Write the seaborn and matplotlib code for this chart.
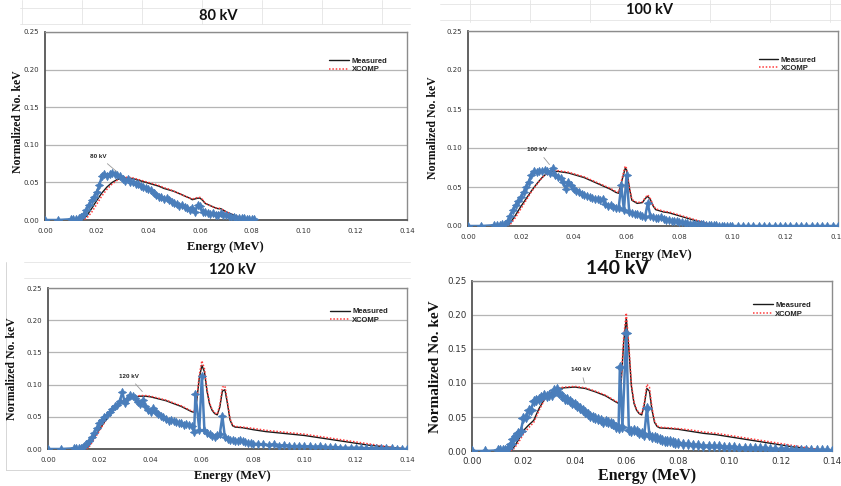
import numpy as np
import pandas as pd
import matplotlib
matplotlib.use("Agg")
import matplotlib.pyplot as plt
import seaborn as sns

# ---------------- data ----------------
x_ticks = [0.00, 0.02, 0.04, 0.06, 0.08, 0.10, 0.12, 0.14]
x_tick_labels = ["0.00", "0.02", "0.04", "0.06", "0.08", "0.10", "0.12", "0.14"]
y_ticks = [0.00, 0.05, 0.10, 0.15, 0.20, 0.25]
y_tick_labels = ["0.00", "0.05", "0.10", "0.15", "0.20", "0.25"]
panel_titles = ["80 kV", "100 kV", "120 kV", "140 kV"]
series_names = ["Measured", "XCOMP"]

# ---- 80 kV ----
sim80_e = [0.000, 0.005, 0.010, 0.011, 0.012, 0.013, 0.014, 0.015, 0.016, 0.017, 0.018, 0.019,
           0.020, 0.021, 0.022, 0.023, 0.024, 0.025, 0.026, 0.027, 0.028, 0.029, 0.030, 0.031,
           0.032, 0.033, 0.034, 0.035, 0.036, 0.037, 0.038, 0.039, 0.040, 0.041, 0.042, 0.043,
           0.044, 0.045, 0.046, 0.047, 0.048, 0.049, 0.050, 0.051, 0.052, 0.053, 0.054, 0.055,
           0.056, 0.057, 0.058, 0.059, 0.060, 0.061, 0.062, 0.063, 0.064, 0.065, 0.066, 0.067,
           0.068, 0.069, 0.070, 0.071, 0.072, 0.073, 0.074, 0.075, 0.076, 0.077, 0.078, 0.079,
           0.080, 0.081]
sim80_y = [0.000, 0.000, 0.001, 0.001, 0.001, 0.002, 0.004, 0.008, 0.013, 0.020, 0.026, 0.030,
           0.037, 0.046, 0.058, 0.061, 0.059, 0.061, 0.063, 0.061, 0.060, 0.058, 0.055, 0.052,
           0.054, 0.051, 0.050, 0.048, 0.048, 0.045, 0.044, 0.043, 0.041, 0.040, 0.036, 0.033,
           0.030, 0.031, 0.028, 0.029, 0.026, 0.024, 0.023, 0.021, 0.019, 0.020, 0.017, 0.016,
           0.013, 0.016, 0.010, 0.020, 0.018, 0.011, 0.011, 0.009, 0.008, 0.009, 0.007, 0.007,
           0.009, 0.007, 0.006, 0.005, 0.004, 0.004, 0.003, 0.002, 0.002, 0.002, 0.001, 0.001,
           0.001, 0.001]
meas80_e = [0.014, 0.016, 0.018, 0.020, 0.022, 0.024, 0.026, 0.028, 0.030, 0.032, 0.034, 0.036,
            0.038, 0.040, 0.042, 0.044, 0.046, 0.048, 0.050, 0.052, 0.054, 0.056, 0.057, 0.058,
            0.059, 0.060, 0.061, 0.062, 0.064, 0.066, 0.067, 0.068, 0.069, 0.070, 0.072, 0.074,
            0.076, 0.078, 0.080]
meas80_y = [0.000, 0.005, 0.015, 0.026, 0.036, 0.044, 0.050, 0.054, 0.056, 0.056, 0.055, 0.053,
            0.051, 0.049, 0.047, 0.045, 0.042, 0.040, 0.038, 0.035, 0.032, 0.029, 0.027, 0.028,
            0.029, 0.029, 0.026, 0.022, 0.019, 0.016, 0.015, 0.015, 0.013, 0.011, 0.008, 0.005,
            0.003, 0.001, 0.000]
xcomp80_y = [0.000, 0.002, 0.010, 0.021, 0.032, 0.041, 0.048, 0.053, 0.056, 0.057, 0.056, 0.054,
             0.052, 0.050, 0.048, 0.046, 0.043, 0.041, 0.038, 0.035, 0.032, 0.029, 0.028, 0.029,
             0.030, 0.030, 0.027, 0.022, 0.019, 0.016, 0.016, 0.015, 0.013, 0.011, 0.008, 0.005,
             0.003, 0.001, 0.000]

# ---- 100 kV ----
sim100_e = [0.000, 0.005, 0.010, 0.011, 0.012, 0.013, 0.014, 0.015, 0.016, 0.017, 0.018, 0.019,
            0.020, 0.021, 0.022, 0.023, 0.024, 0.025, 0.026, 0.027, 0.028, 0.029, 0.030, 0.031,
            0.032, 0.033, 0.034, 0.035, 0.036, 0.037, 0.038, 0.039, 0.040, 0.041, 0.042, 0.043,
            0.044, 0.045, 0.046, 0.047, 0.048, 0.049, 0.050, 0.051, 0.052, 0.053, 0.054, 0.055,
            0.056, 0.057, 0.058, 0.059, 0.060, 0.061, 0.062, 0.063, 0.064, 0.065, 0.066, 0.067,
            0.068, 0.069, 0.070, 0.071, 0.072, 0.073, 0.074, 0.075, 0.076, 0.077, 0.078, 0.079,
            0.080, 0.081, 0.082, 0.083, 0.084, 0.085, 0.086, 0.087, 0.088, 0.089, 0.090, 0.091,
            0.092, 0.093, 0.094, 0.095, 0.096, 0.097, 0.098, 0.099, 0.100, 0.102, 0.104, 0.106,
            0.108, 0.110, 0.112, 0.114, 0.116, 0.118, 0.120, 0.122, 0.124, 0.126, 0.128, 0.130,
            0.132, 0.134, 0.136, 0.138, 0.140]
sim100_y = [0.000, 0.000, 0.001, 0.001, 0.001, 0.002, 0.003, 0.007, 0.013, 0.020, 0.027, 0.032,
            0.037, 0.043, 0.050, 0.057, 0.066, 0.070, 0.069, 0.071, 0.070, 0.072, 0.071, 0.068,
            0.074, 0.066, 0.063, 0.061, 0.057, 0.048, 0.057, 0.052, 0.047, 0.045, 0.044, 0.041,
            0.040, 0.038, 0.037, 0.036, 0.035, 0.035, 0.033, 0.035, 0.028, 0.026, 0.027, 0.024,
            0.023, 0.023, 0.052, 0.020, 0.066, 0.018, 0.017, 0.016, 0.015, 0.014, 0.013, 0.012,
            0.029, 0.013, 0.011, 0.010, 0.010, 0.011, 0.009, 0.008, 0.008, 0.007, 0.006, 0.006,
            0.005, 0.005, 0.004, 0.004, 0.003, 0.003, 0.003, 0.002, 0.002, 0.002, 0.001, 0.001,
            0.001, 0.001, 0.001, 0.000, 0.000, 0.000, 0.000, 0.000, 0.000, 0.000, 0.000, 0.000,
            0.000, 0.000, 0.000, 0.000, 0.000, 0.000, 0.000, 0.000, 0.000, 0.000, 0.000, 0.000,
            0.000, 0.000, 0.000, 0.000, 0.000]
meas100_e = [0.015, 0.016, 0.018, 0.020, 0.022, 0.024, 0.026, 0.028, 0.030, 0.032, 0.034, 0.036,
             0.038, 0.040, 0.042, 0.044, 0.046, 0.048, 0.050, 0.052, 0.054, 0.056, 0.057, 0.058,
             0.059, 0.0595, 0.060, 0.061, 0.062, 0.064, 0.066, 0.067, 0.068, 0.069, 0.070, 0.071,
             0.072, 0.074, 0.076, 0.078, 0.080, 0.082, 0.084, 0.086, 0.088, 0.090, 0.092, 0.094,
             0.096, 0.100]
meas100_y = [0.000, 0.004, 0.014, 0.025, 0.035, 0.045, 0.054, 0.062, 0.068, 0.070, 0.070, 0.069,
             0.068, 0.066, 0.064, 0.062, 0.059, 0.056, 0.053, 0.050, 0.047, 0.043, 0.042, 0.055,
             0.068, 0.074, 0.072, 0.050, 0.033, 0.029, 0.030, 0.035, 0.038, 0.034, 0.026, 0.021,
             0.020, 0.018, 0.017, 0.015, 0.013, 0.011, 0.009, 0.007, 0.005, 0.003, 0.002, 0.001,
             0.000, 0.000]
xcomp100_y = [0.000, 0.002, 0.011, 0.022, 0.033, 0.044, 0.053, 0.062, 0.068, 0.071, 0.071, 0.070,
              0.069, 0.067, 0.065, 0.063, 0.060, 0.057, 0.054, 0.051, 0.048, 0.044, 0.043, 0.057,
              0.071, 0.077, 0.074, 0.051, 0.034, 0.030, 0.031, 0.036, 0.040, 0.035, 0.027, 0.022,
              0.021, 0.019, 0.018, 0.016, 0.014, 0.012, 0.010, 0.008, 0.006, 0.004, 0.002, 0.001,
              0.000, 0.000]

# ---- 120 kV ----
sim120_e = [0.000, 0.005, 0.010, 0.011, 0.012, 0.013, 0.014, 0.015, 0.016, 0.017, 0.018, 0.019,
            0.020, 0.021, 0.022, 0.023, 0.024, 0.025, 0.026, 0.027, 0.028, 0.029, 0.030, 0.031,
            0.032, 0.033, 0.034, 0.035, 0.036, 0.037, 0.038, 0.039, 0.040, 0.041, 0.042, 0.043,
            0.044, 0.045, 0.046, 0.047, 0.048, 0.049, 0.050, 0.051, 0.052, 0.053, 0.054, 0.055,
            0.056, 0.057, 0.0575, 0.059, 0.060, 0.061, 0.062, 0.063, 0.064, 0.065, 0.066, 0.067,
            0.068, 0.069, 0.070, 0.071, 0.072, 0.073, 0.074, 0.075, 0.076, 0.077, 0.078, 0.079,
            0.080, 0.082, 0.084, 0.086, 0.088, 0.090, 0.092, 0.094, 0.096, 0.098, 0.100, 0.102,
            0.104, 0.106, 0.108, 0.110, 0.112, 0.114, 0.116, 0.118, 0.120, 0.122, 0.124, 0.126,
            0.128, 0.130, 0.132, 0.134, 0.136, 0.138, 0.140]
sim120_y = [0.000, 0.000, 0.001, 0.001, 0.001, 0.002, 0.004, 0.008, 0.013, 0.018, 0.025, 0.032,
            0.040, 0.045, 0.050, 0.053, 0.057, 0.062, 0.066, 0.068, 0.075, 0.088, 0.071, 0.078,
            0.084, 0.082, 0.079, 0.073, 0.070, 0.076, 0.066, 0.060, 0.058, 0.063, 0.057, 0.055,
            0.052, 0.050, 0.047, 0.044, 0.045, 0.043, 0.042, 0.040, 0.041, 0.038, 0.039, 0.037,
            0.036, 0.027, 0.086, 0.030, 0.114, 0.029, 0.025, 0.023, 0.020, 0.019, 0.021, 0.023,
            0.051, 0.018, 0.016, 0.014, 0.014, 0.012, 0.013, 0.014, 0.012, 0.011, 0.009, 0.010,
            0.008, 0.008, 0.007, 0.006, 0.007, 0.005, 0.006, 0.005, 0.004, 0.005, 0.004, 0.004,
            0.003, 0.004, 0.003, 0.003, 0.003, 0.002, 0.002, 0.002, 0.002, 0.002, 0.001, 0.001,
            0.001, 0.001, 0.001, 0.001, 0.000, 0.000, 0.000]
meas120_e = [0.015, 0.016, 0.018, 0.020, 0.022, 0.024, 0.026, 0.028, 0.030, 0.032, 0.034, 0.036,
             0.038, 0.040, 0.042, 0.044, 0.046, 0.048, 0.050, 0.052, 0.054, 0.056, 0.057, 0.058,
             0.059, 0.060, 0.061, 0.062, 0.063, 0.064, 0.065, 0.066, 0.067, 0.068, 0.069, 0.070,
             0.071, 0.072, 0.073, 0.076, 0.080, 0.085, 0.090, 0.095, 0.100, 0.105, 0.110, 0.115,
             0.120, 0.125, 0.130, 0.135, 0.140]
meas120_y = [0.000, 0.005, 0.018, 0.030, 0.042, 0.054, 0.064, 0.071, 0.076, 0.079, 0.081, 0.082,
             0.082, 0.081, 0.079, 0.077, 0.075, 0.072, 0.069, 0.066, 0.062, 0.058, 0.057, 0.075,
             0.110, 0.130, 0.120, 0.090, 0.070, 0.060, 0.055, 0.053, 0.065, 0.090, 0.092, 0.070,
             0.045, 0.036, 0.034, 0.033, 0.030, 0.027, 0.025, 0.023, 0.021, 0.018, 0.015, 0.012,
             0.009, 0.006, 0.004, 0.002, 0.000]
xcomp120_y = [0.000, 0.003, 0.015, 0.028, 0.041, 0.053, 0.063, 0.071, 0.077, 0.080, 0.082, 0.083,
              0.083, 0.082, 0.080, 0.078, 0.076, 0.073, 0.070, 0.067, 0.063, 0.059, 0.058, 0.078,
              0.115, 0.137, 0.125, 0.093, 0.072, 0.061, 0.056, 0.054, 0.068, 0.096, 0.098, 0.073,
              0.047, 0.037, 0.035, 0.034, 0.032, 0.029, 0.027, 0.025, 0.023, 0.020, 0.017, 0.014,
              0.011, 0.008, 0.005, 0.002, 0.000]

# ---- 140 kV ----
sim140_e = [0.000, 0.005, 0.010, 0.011, 0.012, 0.013, 0.014, 0.015, 0.016, 0.017, 0.018, 0.019,
            0.020, 0.021, 0.022, 0.023, 0.024, 0.025, 0.026, 0.027, 0.028, 0.029, 0.030, 0.031,
            0.032, 0.033, 0.034, 0.035, 0.036, 0.037, 0.038, 0.039, 0.040, 0.041, 0.042, 0.043,
            0.044, 0.045, 0.046, 0.047, 0.048, 0.049, 0.050, 0.051, 0.052, 0.053, 0.054, 0.055,
            0.056, 0.057, 0.0575, 0.0585, 0.060, 0.061, 0.062, 0.063, 0.064, 0.065, 0.066, 0.067,
            0.068, 0.069, 0.070, 0.071, 0.072, 0.073, 0.074, 0.075, 0.076, 0.077, 0.078, 0.079,
            0.080, 0.082, 0.084, 0.086, 0.088, 0.090, 0.092, 0.094, 0.096, 0.098, 0.100, 0.102,
            0.104, 0.106, 0.108, 0.110, 0.112, 0.114, 0.116, 0.118, 0.120, 0.122, 0.124, 0.126,
            0.128, 0.130, 0.132, 0.134, 0.136, 0.138, 0.140]
sim140_y = [0.000, 0.000, 0.001, 0.001, 0.001, 0.002, 0.005, 0.011, 0.018, 0.022, 0.026, 0.030,
            0.048, 0.050, 0.060, 0.061, 0.074, 0.075, 0.076, 0.080, 0.083, 0.081, 0.082, 0.083,
            0.090, 0.091, 0.085, 0.081, 0.077, 0.076, 0.073, 0.071, 0.069, 0.066, 0.063, 0.061,
            0.058, 0.055, 0.052, 0.050, 0.049, 0.047, 0.045, 0.043, 0.044, 0.042, 0.041, 0.039,
            0.036, 0.034, 0.124, 0.035, 0.173, 0.031, 0.030, 0.031, 0.029, 0.027, 0.026, 0.024,
            0.063, 0.023, 0.021, 0.020, 0.019, 0.017, 0.016, 0.015, 0.015, 0.014, 0.013, 0.012,
            0.012, 0.011, 0.010, 0.009, 0.009, 0.008, 0.008, 0.007, 0.007, 0.006, 0.006, 0.006,
            0.005, 0.005, 0.004, 0.004, 0.004, 0.004, 0.003, 0.003, 0.003, 0.003, 0.002, 0.002,
            0.002, 0.002, 0.001, 0.001, 0.001, 0.001, 0.000]
meas140_e = [0.015, 0.016, 0.018, 0.020, 0.022, 0.024, 0.026, 0.028, 0.030, 0.032, 0.034, 0.036,
             0.040, 0.044, 0.048, 0.052, 0.056, 0.057, 0.058, 0.059, 0.060, 0.061, 0.062, 0.063,
             0.064, 0.065, 0.066, 0.067, 0.068, 0.069, 0.070, 0.071, 0.072, 0.073, 0.077, 0.080,
             0.085, 0.090, 0.095, 0.100, 0.105, 0.110, 0.115, 0.120, 0.125, 0.130, 0.135, 0.140]
meas140_y = [0.000, 0.004, 0.016, 0.030, 0.038, 0.045, 0.062, 0.075, 0.083, 0.089, 0.092, 0.093,
             0.094, 0.092, 0.087, 0.081, 0.072, 0.070, 0.100, 0.160, 0.195, 0.150, 0.095, 0.070,
             0.060, 0.055, 0.053, 0.068, 0.092, 0.088, 0.060, 0.042, 0.036, 0.034, 0.033, 0.032,
             0.029, 0.026, 0.024, 0.021, 0.018, 0.015, 0.012, 0.009, 0.006, 0.004, 0.002, 0.000]
xcomp140_y = [0.000, 0.002, 0.012, 0.025, 0.034, 0.042, 0.059, 0.074, 0.083, 0.090, 0.093, 0.094,
              0.095, 0.093, 0.088, 0.082, 0.073, 0.071, 0.104, 0.168, 0.203, 0.156, 0.098, 0.072,
              0.061, 0.056, 0.054, 0.071, 0.098, 0.094, 0.064, 0.044, 0.037, 0.035, 0.034, 0.033,
              0.031, 0.028, 0.026, 0.023, 0.020, 0.017, 0.014, 0.011, 0.008, 0.005, 0.002, 0.000]

sims = [(sim80_e, sim80_y), (sim100_e, sim100_y), (sim120_e, sim120_y), (sim140_e, sim140_y)]
meas = [(meas80_e, meas80_y, xcomp80_y), (meas100_e, meas100_y, xcomp100_y),
        (meas120_e, meas120_y, xcomp120_y), (meas140_e, meas140_y, xcomp140_y)]

# ---------------- layout (pixel boxes of the four pasted Excel charts) ----------------
W, H = 841, 486
def rect(x0, x1, ytop, ybot):
    return [x0 / W, (H - ybot) / H, (x1 - x0) / W, (ybot - ytop) / H]

boxes = [rect(45, 407, 32, 220), rect(468, 838, 31, 226), rect(48, 407, 288, 449), rect(472, 832, 281, 451)]
title_pos = [(218, 16, 10.5), (650, 10, 10.5), (232, 270, 10.5), (617, 268, 14)]
ylabel_pos = [(18, 122, 8.5), (433, 128, 8.5), (12, 369, 8.5), (436, 367, 11)]
xlabel_pos = [(225, 247, 9), (653, 255, 9), (232, 476, 9), (647, 476, 11.5)]
tick_size = [5, 5, 5, 6.3]
marker_size = [6, 6, 6, 7.5]
legend_anchor = [(0.775, 0.885), (0.775, 0.89), (0.775, 0.9), (0.77, 0.9)]
ann = [("80 kV", (0.0175, 0.083), (0.0285, 0.062)),
       ("100 kV", (0.0225, 0.096), (0.0315, 0.076)),
       ("120 kV", (0.0275, 0.111), (0.0375, 0.086)),
       ("140 kV", (0.0385, 0.118), (0.0440, 0.096))]

sns.set_style("white")
plt.rcParams["font.family"] = ["DejaVu Sans"]

fig = plt.figure(figsize=(W / 100, H / 100), dpi=100)
fig.patch.set_facecolor("white")

# faint spreadsheet cell lines behind the charts
for xx in [22, 82, 142, 202, 262, 322, 382]:
    fig.add_artist(plt.Line2D([xx / W, xx / W], [1 - 0 / H, 1 - 24 / H], color="#e4e4e4", lw=0.6))
for xx in [470, 530, 590, 710, 770, 830]:
    fig.add_artist(plt.Line2D([xx / W, xx / W], [1, 1 - 22 / H], color="#e4e4e4", lw=0.6))
for yy in [8, 24]:
    fig.add_artist(plt.Line2D([20 / W, 410 / W], [1 - yy / H, 1 - yy / H], color="#e4e4e4", lw=0.6))
    fig.add_artist(plt.Line2D([440 / W, 841 / W], [1 - (yy - 4) / H, 1 - (yy - 4) / H], color="#e4e4e4", lw=0.6))
for yy in [262, 278]:
    fig.add_artist(plt.Line2D([24 / W, 410 / W], [1 - yy / H, 1 - yy / H], color="#e4e4e4", lw=0.6))
fig.add_artist(plt.Line2D([6 / W, 6 / W], [1 - 262 / H, 1 - 470 / H], color="#d0d0d0", lw=0.6))
fig.add_artist(plt.Line2D([6 / W, 410 / W], [1 - 470 / H, 1 - 470 / H], color="#d0d0d0", lw=0.6))

blue = "#4a7ebb"
for i in range(4):
    ax = fig.add_axes(boxes[i])
    se, sy = sims[i]
    me, my, xy = meas[i]
    df_m = pd.DataFrame({"E": me, "Measured": my, "XCOMP": xy})
    df_s = pd.DataFrame({"E": se, "Sim": sy})

    sns.lineplot(data=df_m, x="E", y="Measured", ax=ax, color="#1a1a1a", lw=1.0,
                 label=series_names[0], estimator=None, sort=False, zorder=3)
    sns.lineplot(data=df_m, x="E", y="XCOMP", ax=ax, color="#ff3b3b", lw=1.1, linestyle=(0, (1, 1.2)),
                 label=series_names[1], estimator=None, sort=False, zorder=4)
    sns.lineplot(data=df_s, x="E", y="Sim", ax=ax, color=blue, lw=1.8, marker=(4, 1, 0),
                 markersize=marker_size[i], markeredgewidth=0.5, markeredgecolor=blue,
                 estimator=None, sort=False, zorder=5, legend=False)

    ax.set_xlim(0, 0.14)
    ax.set_ylim(0, 0.25)
    ax.set_xticks(x_ticks)
    ax.set_xticklabels(x_tick_labels)
    ax.set_yticks(y_ticks)
    ax.set_yticklabels(y_tick_labels)
    ax.tick_params(axis="both", labelsize=tick_size[i], colors="#333333", length=2, width=0.6,
                   pad=2, direction="out")
    ax.tick_params(axis="x", pad=4 if i < 3 else 2)
    ax.set_xlabel("")
    ax.set_ylabel("")
    ax.yaxis.grid(True, color="#b5b5b5", lw=0.9)
    ax.xaxis.grid(False)
    ax.set_axisbelow(True)
    for s in ["left", "bottom"]:
        ax.spines[s].set_color("#555555")
        ax.spines[s].set_linewidth(1.3)
    for s in ["top", "right"]:
        ax.spines[s].set_color("#8c8c8c")
        ax.spines[s].set_linewidth(1.0)
        ax.spines[s].set_visible(True)

    leg = ax.legend(loc="upper left", bbox_to_anchor=legend_anchor[i], frameon=False,
                    prop={"size": 5.5, "weight": "bold", "family": "Liberation Sans"},
                    handlelength=2.6, handletextpad=0.3, labelspacing=0.15, borderpad=0)
    for t in leg.get_texts():
        t.set_color("#222222")

    txt, tpos, apos = ann[i]
    ax.annotate(txt, xy=apos, xytext=tpos, fontsize=4.5, fontweight="bold", color="#222222",
                family="Liberation Sans",
                arrowprops=dict(arrowstyle="-", color="#9a9a9a", lw=0.6), zorder=6)

    tx, ty, tfs = title_pos[i]
    fig.text(tx / W, 1 - ty / H, panel_titles[i], ha="center", va="center", fontsize=tfs,
             fontweight="bold", family="Lato", color="#111111")
    lx, lyy, lfs = ylabel_pos[i]
    fig.text(lx / W, 1 - lyy / H, "Normalized No. keV", ha="center", va="center", rotation=90,
             fontsize=lfs, fontweight="bold", family="Liberation Serif", color="#111111")
    xx, xyy, xfs = xlabel_pos[i]
    fig.text(xx / W, 1 - xyy / H, "Energy (MeV)", ha="center", va="center",
             fontsize=xfs, fontweight="bold", family="Liberation Serif", color="#111111")

fig.savefig("out.png", dpi=100, facecolor="white")
